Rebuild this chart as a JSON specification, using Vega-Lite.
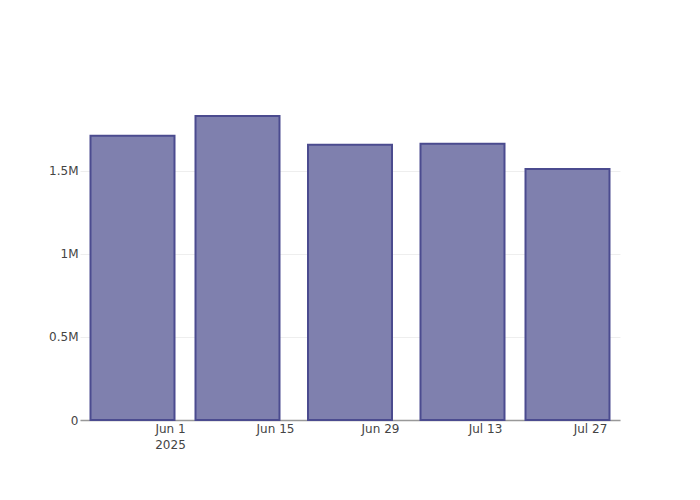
{
  "$schema": "https://vega.github.io/schema/vega-lite/v6.json",
  "width": 540,
  "height": 320,
  "autosize": {"type": "none"},
  "padding": {"left": 80, "top": 100, "right": 80, "bottom": 80},
  "background": "white",
  "config": {"view": {"stroke": null}, "font": "DejaVu Sans"},
  "data": {
    "values": [
      {"date": "2025-05-27", "value": 1711000},
      {"date": "2025-06-10", "value": 1831000},
      {"date": "2025-06-25", "value": 1657000},
      {"date": "2025-07-10", "value": 1663000},
      {"date": "2025-07-24", "value": 1512000}
    ]
  },
  "mark": {"type": "bar", "width": 84, "fill": "#7f80ae", "stroke": "#4b4b8f", "strokeWidth": 2},
  "encoding": {
    "x": {
      "field": "date",
      "type": "temporal",
      "scale": {"type": "utc", "padding": 0, "nice": false, "domain": [{"year": 2025, "month": 5, "date": 20, "utc": true}, {"year": 2025, "month": 7, "date": 31, "utc": true}]},
      "axis": {
        "title": null,
        "values": [
          {"year": 2025, "month": 6, "date": 1, "utc": true},
          {"year": 2025, "month": 6, "date": 15, "utc": true},
          {"year": 2025, "month": 6, "date": 29, "utc": true},
          {"year": 2025, "month": 7, "date": 13, "utc": true},
          {"year": 2025, "month": 7, "date": 27, "utc": true}
        ],
        "labelExpr": "utcmonth(datum.value) == 5 && utcdate(datum.value) == 1 ? ['Jun 1', '2025'] : utcFormat(datum.value, '%b %-d')",
        "grid": false,
        "ticks": false,
        "domainColor": "#999999",
        "domainWidth": 1.5,
        "labelColor": "#444",
        "labelFontSize": 12,
        "labelLineHeight": 16,
        "labelPadding": 3,
        "labelFlush": false,
        "labelOverlap": false
      }
    },
    "y": {
      "field": "value",
      "type": "quantitative",
      "scale": {"domain": [0, 1927000], "nice": false},
      "axis": {
        "title": null,
        "values": [0, 500000, 1000000, 1500000],
        "labelExpr": "datum.value == 0 ? '0' : format(datum.value / 1000000, '~g') + 'M'",
        "domain": false,
        "ticks": false,
        "gridColor": "#eeeeee",
        "gridWidth": 1,
        "labelColor": "#444",
        "labelFontSize": 12,
        "labelPadding": 2
      }
    }
  }
}
